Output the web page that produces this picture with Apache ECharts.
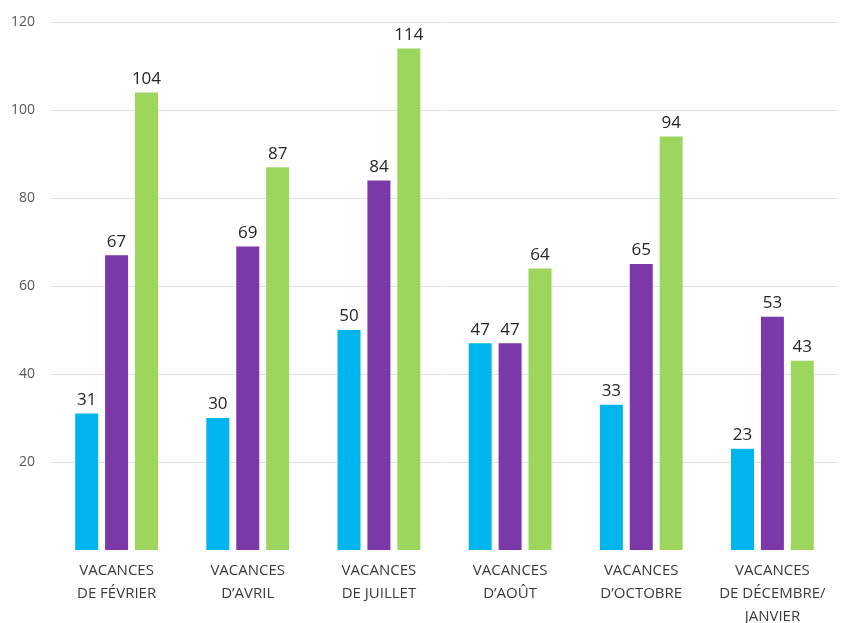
<!DOCTYPE html>
<html>
<head>
<meta charset="utf-8">
<script src="https://cdn.jsdelivr.net/npm/echarts@6/dist/echarts.min.js"></script>
<style>
  html, body { margin: 0; padding: 0; background: #fff; }
  #chart { width: 856px; height: 623px; }
</style>
</head>
<body>
<div id="chart"></div>
<script>
// periodes de vacances
var categories = [
  'VACANCES\nDE FÉVRIER',
  'VACANCES\nD’AVRIL',
  'VACANCES\nDE JUILLET',
  'VACANCES\nD’AOÛT',
  'VACANCES\nD’OCTOBRE',
  'VACANCES\nDE DÉCEMBRE/\nJANVIER'
];
var serieBleue = [31, 30, 50, 47, 33, 23];
var serieViolette = [67, 69, 84, 47, 65, 53];
var serieVerte = [104, 87, 114, 64, 94, 43];
var yTicks = [0, 20, 40, 60, 80, 100, 120];

var chart = echarts.init(document.getElementById('chart'));

var labelStyle = {
  show: true,
  position: 'top',
  distance: 5,
  color: '#262626',
  fontSize: 17,
  fontFamily: 'Open Sans'
};

var option = {
  animation: false,
  grid: {
    left: 51,
    right: 18,
    top: 22,
    bottom: 73,
    outerBoundsMode: 'none',
    containLabel: false
  },
  xAxis: {
    type: 'category',
    data: categories,
    axisLine: { show: false },
    axisTick: { show: false },
    axisLabel: {
      interval: 0,
      margin: 9,
      color: '#3a3a3a',
      fontSize: 15,
      lineHeight: 23,
      fontFamily: 'Open Sans'
    }
  },
  yAxis: {
    type: 'value',
    min: yTicks[0],
    max: yTicks[yTicks.length - 1],
    interval: 20,
    axisLine: { show: false },
    axisTick: { show: false },
    axisLabel: {
      margin: 16,
      color: '#595959',
      fontSize: 14,
      fontFamily: 'Open Sans',
      showMinLabel: false
    },
    splitLine: {
      showMinLine: false,
      lineStyle: { color: '#e0e0e0', width: 1 }
    }
  },
  series: [
    {
      name: 'bleu',
      type: 'bar',
      data: serieBleue,
      barWidth: 23,
      barGap: '30%',
      itemStyle: { color: '#00b4ee' },
      label: labelStyle
    },
    {
      name: 'violet',
      type: 'bar',
      data: serieViolette,
      barWidth: 23,
      barGap: '30%',
      itemStyle: { color: '#7a38a8' },
      label: labelStyle
    },
    {
      name: 'vert',
      type: 'bar',
      data: serieVerte,
      barWidth: 23,
      barGap: '30%',
      itemStyle: { color: '#9cd65c' },
      label: labelStyle
    }
  ]
};

chart.setOption(option);
</script>
</body>
</html>
